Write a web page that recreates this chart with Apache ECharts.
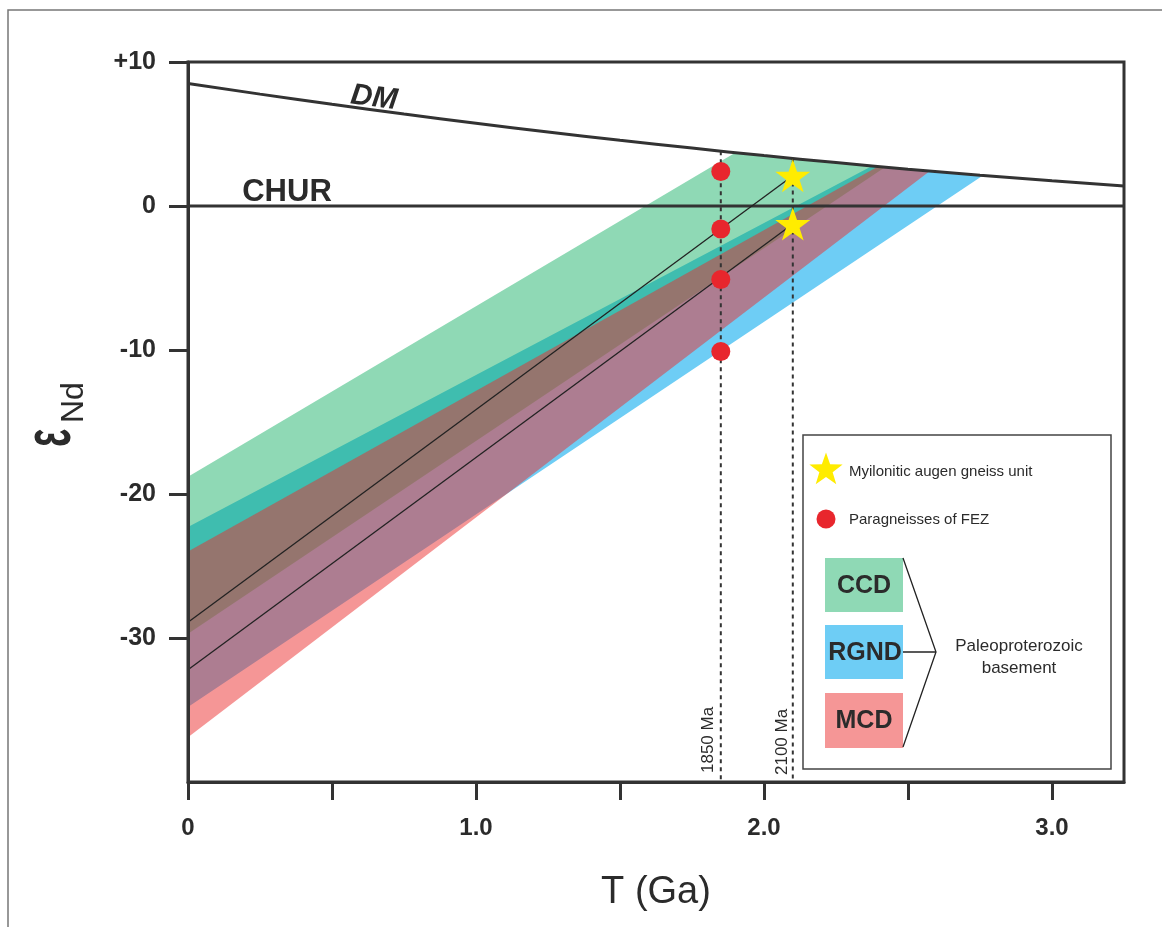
<!DOCTYPE html>
<html>
<head>
<meta charset="utf-8">
<script src="https://cdn.jsdelivr.net/npm/echarts@6/dist/echarts.min.js"></script>
<style>
  html, body { margin: 0; padding: 0; background: #fff; }
  #nd-chart { width: 1162px; height: 927px; }
</style>
</head>
<body>
<div id="nd-chart"></div>
<script>
// values (T in Ga, eNd)
const dmT = [0, 0.25, 0.5, 0.75, 1.0, 1.25, 1.5, 1.75, 2.0, 2.25, 2.5, 2.75, 3.0, 3.25]
const dmE = [8.5, 7.77, 7.06, 6.39, 5.75, 5.14, 4.56, 4.02, 3.5, 3.02, 2.56, 2.14, 1.75, 1.39]
const churLine = [[0, 0], [3.25, 0]]

// band outlines: left edge at T=0, then along DM
const rgndBand = [[0, -22.3], [2.375, 2.78], [2.5, 2.56], [2.625, 2.35], [2.76, 2.12], [0, -34.8]]
const ccdBand = [[0, -18.8], [1.9, 3.7], [2.1, 3.3], [2.25, 3.02], [2.42, 2.69], [0, -29.7]]
const mcdBand = [[0, -24.0], [2.396, 2.74], [2.5, 2.56], [2.576, 2.43], [0, -36.9]]

const evoLine1 = [[0, -28.9], [2.1, 2.1]]
const evoLine2 = [[0, -32.2], [2.1, -1.25]]
const ageLine1850 = [[1.85, 3.8], [1.85, -40]]
const ageLine2100 = [[2.1, 3.3], [2.1, -40]]

const feZDots = [[1.85, 2.4], [1.85, -1.6], [1.85, -5.1], [1.85, -10.1]]
const augenStars = [[2.1, 2.1], [2.1, -1.25]]

const xTicks = [0, 0.5, 1.0, 1.5, 2.0, 2.5, 3.0]
const xLabels = [0, 1.0, 2.0, 3.0]
const yTicks = [-30, -20, -10, 0, 10]

const FONT = "'Liberation Sans', Arial, sans-serif"
const INK = '#2b2b2b'
const AXIS = '#333'
const BLUE = '#6ecdf5'
const GREEN = 'rgba(7,171,91,0.45)'
const RED = 'rgba(235,45,45,0.5)'
const YELLOW = '#ffec00'
const DOT = '#e8262d'
const STAR = 'path://M50,0 L61.8,35.1 L98.9,35.1 L68.9,56.9 L80.3,91.9 L50,70.2 L19.7,91.9 L31.1,56.9 L1.1,35.1 L38.2,35.1 Z'

const dmCurve = dmT.map((t, i) => [t, dmE[i]])

// 5-point star outline for the legend glyph
function starPoints(cx, cy, ro, ri) {
  var pts = []
  for (var i = 0; i < 10; i++) {
    var r = i % 2 ? ri : ro
    var a = -Math.PI / 2 + i * Math.PI / 5
    pts.push([cx + r * Math.cos(a), cy + r * Math.sin(a)])
  }
  return pts
}

function band(name, pts, color) {
  return {
    name: name,
    type: 'custom',
    silent: true,
    z: 1,
    data: [pts[0]],
    renderItem: function (params, api) {
      return {
        type: 'polygon',
        shape: { points: pts.map(p => api.coord(p)) },
        style: { fill: color }
      }
    }
  }
}

function plainLine(data, width, color, type) {
  return {
    type: 'line',
    data: data,
    symbol: 'none',
    silent: true,
    z: 3,
    lineStyle: { width: width, color: color, type: type || 'solid' }
  }
}

function txt(x, y, text, font, extra) {
  return Object.assign({
    type: 'text', x: x, y: y, z: 22,
    style: { text: text, font: font, fill: INK, align: 'center', verticalAlign: 'middle' }
  }, extra || {})
}

function leftTxt(x, y, text, font, extra) {
  return Object.assign({
    type: 'text', x: x, y: y, z: 22,
    style: { text: text, font: font, fill: INK, align: 'left', verticalAlign: 'middle' }
  }, extra || {})
}

var myChart = echarts.init(document.getElementById('nd-chart'))
var option = {
  animation: false,
  backgroundColor: '#fff',
  grid: {
    left: 188, right: 38, top: 62, bottom: 145,
    show: true, borderColor: AXIS, borderWidth: 3
  },
  xAxis: {
    type: 'value',
    min: 0, max: 3.25,
    z: 5,
    name: 'T (Ga)',
    nameLocation: 'middle',
    nameGap: 92,
    nameTextStyle: { fontFamily: FONT, fontSize: 38, color: INK },
    splitLine: { show: false },
    axisLine: { onZero: false, lineStyle: { color: AXIS, width: 3 } },
    axisTick: { customValues: xTicks, length: 18, lineStyle: { color: AXIS, width: 3 } },
    axisLabel: {
      customValues: xLabels,
      margin: 34,
      fontFamily: FONT, fontSize: 24, fontWeight: 'bold', color: INK,
      formatter: v => (v === 0 ? '0' : v.toFixed(1))
    }
  },
  yAxis: {
    type: 'value',
    min: -40, max: 10, interval: 10,
    z: 5,
    splitLine: { show: false },
    axisLine: { onZero: false, lineStyle: { color: AXIS, width: 3 } },
    axisTick: { customValues: yTicks, length: 19, lineStyle: { color: AXIS, width: 3 } },
    axisLabel: {
      customValues: yTicks,
      margin: 32,
      fontFamily: FONT, fontSize: 25, fontWeight: 'bold', color: INK,
      formatter: v => (v > 0 ? '+' + v : String(v))
    }
  },
  series: [
    band('RGND', rgndBand, BLUE),
    band('CCD', ccdBand, GREEN),
    band('MCD', mcdBand, RED),
    Object.assign(plainLine(dmCurve, 3, AXIS), { smooth: true }),
    plainLine(churLine, 3, AXIS),
    plainLine(ageLine1850, 2, AXIS, [4, 4]),
    plainLine(ageLine2100, 2, AXIS, [4, 4]),
    plainLine(evoLine1, 1.3, '#222'),
    plainLine(evoLine2, 1.3, '#222'),
    {
      name: 'Paragneisses of FEZ',
      type: 'scatter',
      z: 4,
      data: feZDots,
      symbol: 'circle',
      symbolSize: 19,
      itemStyle: { color: DOT, opacity: 1 }
    },
    {
      name: 'Myilonitic augen gneiss unit',
      type: 'scatter',
      z: 4,
      data: augenStars,
      symbol: STAR,
      symbolSize: [35, 33],
      itemStyle: { color: YELLOW, opacity: 1 }
    }
  ],
  graphic: [
    // outer figure frame
    { type: 'rect', z: 0, shape: { x: 8, y: 10, width: 1180, height: 940 }, style: { fill: 'none', stroke: '#777', lineWidth: 1.5 } },
    // curve labels
    txt(287, 192, 'CHUR', 'bold 31px ' + FONT),
    txt(374, 98, 'DM', 'italic bold 30px ' + FONT, { rotation: -0.13 }),
    // age labels
    leftTxt(708, 773, '1850 Ma', '17px ' + FONT, { rotation: Math.PI / 2 }),
    leftTxt(782, 775, '2100 Ma', '17px ' + FONT, { rotation: Math.PI / 2 }),
    // y axis title: epsilon Nd
    leftTxt(52, 447, 'ε', 'bold 66px ' + FONT, { rotation: Math.PI / 2, scaleX: 0.58 }),
    leftTxt(74, 423, 'Nd', '32px ' + FONT, { rotation: Math.PI / 2 }),
    // legend box
    { type: 'rect', z: 20, shape: { x: 803, y: 435, width: 308, height: 334 }, style: { fill: '#fff', stroke: '#444', lineWidth: 1.5 } },
    { type: 'polygon', z: 21, shape: { points: starPoints(826, 470, 17.5, 7) }, style: { fill: YELLOW } },
    leftTxt(849, 472, 'Myilonitic augen gneiss unit', '15px ' + FONT),
    { type: 'circle', z: 21, shape: { cx: 826, cy: 519, r: 9.5 }, style: { fill: DOT } },
    leftTxt(849, 520, 'Paragneisses of FEZ', '15px ' + FONT),
    { type: 'rect', z: 21, shape: { x: 825, y: 558, width: 78, height: 54 }, style: { fill: GREEN } },
    { type: 'rect', z: 21, shape: { x: 825, y: 625, width: 78, height: 54 }, style: { fill: BLUE } },
    { type: 'rect', z: 21, shape: { x: 825, y: 693, width: 78, height: 55 }, style: { fill: RED } },
    txt(864, 586, 'CCD', 'bold 25px ' + FONT),
    txt(865, 653, 'RGND', 'bold 25px ' + FONT),
    txt(864, 721, 'MCD', 'bold 25px ' + FONT),
    { type: 'polyline', z: 21, shape: { points: [[903, 558], [936, 652], [903, 747]] }, style: { stroke: '#222', lineWidth: 1.3, fill: 'none' } },
    { type: 'line', z: 21, shape: { x1: 903, y1: 652, x2: 936, y2: 652 }, style: { stroke: '#222', lineWidth: 1.3 } },
    txt(1019, 646, 'Paleoproterozoic', '17px ' + FONT),
    txt(1019, 668, 'basement', '17px ' + FONT)
  ]
}

option && myChart.setOption(option)
</script>
</body>
</html>
